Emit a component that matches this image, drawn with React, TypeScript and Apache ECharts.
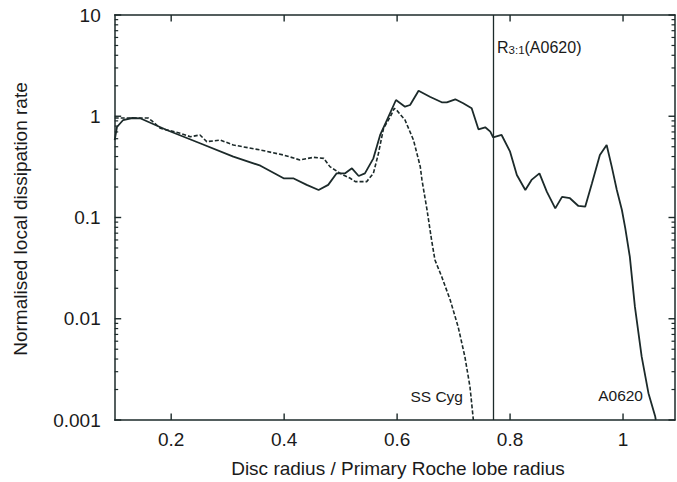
import React, { useEffect, useRef } from 'react';
import * as echarts from 'echarts';

// A0620 (solid curve)
const a0620X = [0.100, 0.104, 0.115, 0.131, 0.145, 0.192, 0.251, 0.310, 0.358, 0.399, 0.416, 0.440, 0.461, 0.478, 0.493, 0.508, 0.520, 0.532, 0.543, 0.558, 0.570, 0.582, 0.598, 0.614, 0.623, 0.638, 0.658, 0.679, 0.688, 0.703, 0.717, 0.732, 0.744, 0.756, 0.765, 0.770, 0.785, 0.800, 0.812, 0.827, 0.838, 0.852, 0.865, 0.880, 0.892, 0.906, 0.921, 0.933, 0.945, 0.959, 0.971, 0.980, 0.989, 0.998, 1.004, 1.012, 1.021, 1.033, 1.045, 1.057, 1.058];
const a0620Y = [0.582, 0.783, 0.918, 0.961, 0.955, 0.731, 0.541, 0.399, 0.325, 0.244, 0.244, 0.210, 0.187, 0.210, 0.273, 0.273, 0.306, 0.257, 0.273, 0.384, 0.653, 0.918, 1.447, 1.243, 1.291, 1.788, 1.560, 1.373, 1.373, 1.471, 1.343, 1.198, 0.743, 0.778, 0.704, 0.620, 0.653, 0.447, 0.263, 0.187, 0.235, 0.273, 0.180, 0.123, 0.160, 0.155, 0.130, 0.128, 0.218, 0.414, 0.520, 0.318, 0.187, 0.1186, 0.0782, 0.0410, 0.01315, 0.00422, 0.00184, 0.00108, 0.001];

// SS Cyg (dashed curve)
const ssCygX = [0.100, 0.159, 0.166, 0.181, 0.216, 0.234, 0.251, 0.263, 0.287, 0.310, 0.358, 0.399, 0.428, 0.452, 0.470, 0.481, 0.499, 0.517, 0.526, 0.546, 0.558, 0.567, 0.576, 0.588, 0.595, 0.599, 0.614, 0.629, 0.641, 0.644, 0.653, 0.661, 0.667, 0.679, 0.694, 0.708, 0.720, 0.729, 0.735];
const ssCygY = [0.961, 0.961, 0.900, 0.760, 0.679, 0.628, 0.653, 0.561, 0.582, 0.520, 0.464, 0.414, 0.370, 0.393, 0.384, 0.318, 0.273, 0.244, 0.226, 0.226, 0.273, 0.431, 0.760, 0.990, 1.198, 1.153, 0.918, 0.582, 0.318, 0.235, 0.1186, 0.0600, 0.0380, 0.0260, 0.01532, 0.00835, 0.00422, 0.00213, 0.001];

const xTickValues = [0.2, 0.4, 0.6, 0.8, 1];
const yTickValues = [0.001, 0.01, 0.1, 1, 10];
const yTickLabels = ['0.001', '0.01', '0.1', '1', '10'];
const minorMultipliers = [2, 3, 4, 5, 6, 7, 8, 9];
const decadeStarts = [0.001, 0.01, 0.1, 1];
const resonanceRadius = 0.769;

const X_MIN = 0.1;
const X_MAX = 1.092;
const Y_MIN = 0.001;
const Y_MAX = 10;

const INK = '#1c2a2a';
const TEXT = '#1a1a1a';
const FONT = '"Liberation Sans", Arial, Helvetica, sans-serif';

export default function App() {
  const ref = useRef<HTMLDivElement>(null);

  useEffect(() => {
    if (!ref.current) return;
    const chart = echarts.init(ref.current, null, { renderer: 'svg' });

    const pair = (xs: number[], ys: number[]) => xs.map((x, i) => [x, ys[i]]);
    const minorValues: number[] = [];
    decadeStarts.forEach((d) =>
      minorMultipliers.forEach((m) => minorValues.push(+(d * m).toPrecision(3)))
    );

    const yLabel = (v: number) => {
      const e = Math.round(Math.log10(v));
      return yTickLabels[e + 3] ?? '';
    };
    const xLabel = (v: number) =>
      xTickValues.some((t) => Math.abs(t - v) < 1e-6) ? String(+v.toFixed(1)) : '';

    const axisLine = { show: true, onZero: false, lineStyle: { color: INK, width: 1.5 } };

    const textElements: any[] = [
      {
        type: 'text',
        x: 398,
        y: 468,
        style: {
          text: 'Disc radius / Primary Roche lobe radius',
          fontSize: 19,
          fontFamily: FONT,
          fill: TEXT,
          align: 'center',
          verticalAlign: 'middle',
        },
      },
      {
        type: 'text',
        x: 20,
        y: 219,
        rotation: Math.PI / 2,
        style: {
          text: 'Normalised local dissipation rate',
          fontSize: 19,
          fontFamily: FONT,
          fill: TEXT,
          align: 'center',
          verticalAlign: 'middle',
        },
      },
      {
        type: 'text',
        x: 497,
        y: 39.5,
        style: {
          text: '{m|R}{s|3:1}{m|(A0620)}',
          fontFamily: FONT,
          fill: TEXT,
          align: 'left',
          verticalAlign: 'top',
          rich: {
            m: { fontSize: 16, lineHeight: 16, verticalAlign: 'top', fontFamily: FONT, fill: TEXT },
            s: { fontSize: 11.5, lineHeight: 12, verticalAlign: 'bottom', padding: [9, 0, 0, 0], fontFamily: FONT, fill: TEXT },
          },
        },
      },
      {
        type: 'text',
        x: 463,
        y: 396,
        style: {
          text: 'SS Cyg',
          fontSize: 15.5,
          fontFamily: FONT,
          fill: TEXT,
          align: 'right',
          verticalAlign: 'middle',
        },
      },
      {
        type: 'text',
        x: 643,
        y: 395,
        style: {
          text: 'A0620',
          fontSize: 15.5,
          fontFamily: FONT,
          fill: TEXT,
          align: 'right',
          verticalAlign: 'middle',
        },
      },
    ];

    chart.setOption({
      animation: false,
      backgroundColor: '#ffffff',
      grid: { left: 114.7, right: 2, top: 15, bottom: 62, containLabel: false },
      xAxis: [
        {
          type: 'value',
          min: X_MIN,
          max: X_MAX,
          splitNumber: 5,
          position: 'bottom',
          axisLine,
          axisTick: { show: false },
          splitLine: { show: false },
          axisLabel: {
            show: true,
            margin: 10,
            fontSize: 19,
            fontFamily: FONT,
            color: TEXT,
            showMinLabel: false,
            showMaxLabel: false,
            formatter: xLabel,
          },
        },
        {
          type: 'value',
          min: X_MIN,
          max: X_MAX,
          splitNumber: 5,
          position: 'top',
          axisLine,
          axisTick: { show: false },
          splitLine: { show: false },
          axisLabel: { show: false },
        },
      ],
      yAxis: [
        {
          type: 'log',
          logBase: 10,
          min: Y_MIN,
          max: Y_MAX,
          position: 'left',
          axisLine,
          axisTick: { show: false },
          splitLine: { show: false },
          axisLabel: {
            show: true,
            margin: 14,
            fontSize: 19,
            fontFamily: FONT,
            color: TEXT,
            formatter: yLabel,
          },
        },
        {
          type: 'log',
          logBase: 10,
          min: Y_MIN,
          max: Y_MAX,
          position: 'right',
          axisLine,
          axisTick: { show: false },
          splitLine: { show: false },
          axisLabel: { show: false },
        },
      ],
      series: [
        {
          name: 'SS Cyg',
          type: 'line',
          data: pair(ssCygX, ssCygY),
          showSymbol: false,
          symbol: 'none',
          clip: true,
          lineStyle: { color: INK, width: 1.6, type: [4, 2] },
          z: 3,
        },
        {
          name: 'A0620',
          type: 'line',
          data: pair(a0620X, a0620Y),
          showSymbol: false,
          symbol: 'none',
          clip: true,
          lineStyle: { color: INK, width: 1.8 },
          z: 4,
          markLine: {
            silent: true,
            symbol: 'none',
            label: { show: false },
            lineStyle: { color: INK, width: 1.3, type: 'solid' },
            data: [{ xAxis: resonanceRadius }],
          },
        },
      ],
      graphic: { elements: textElements },
    });

    // Axis ticks (inside, on all four sides), positioned through the chart's own scales
    const toPx = (x: number, y: number) =>
      chart.convertToPixel({ xAxisIndex: 0, yAxisIndex: 0 }, [x, y]) as number[];
    const leftX = toPx(X_MIN, 1)[0];
    const rightX = toPx(X_MAX, 1)[0];
    const topY = toPx(X_MIN, Y_MAX)[1];
    const botY = toPx(X_MIN, Y_MIN)[1];
    const seg = (x1: number, y1: number, x2: number, y2: number, w: number) => ({
      type: 'line',
      silent: true,
      z: 50,
      shape: { x1, y1, x2, y2 },
      style: { stroke: INK, lineWidth: w },
    });
    const tickEls: any[] = [];
    minorValues.forEach((v) => {
      const y = toPx(X_MIN, v)[1];
      tickEls.push(seg(leftX, y, leftX + 3.5, y, 1.2));
      tickEls.push(seg(rightX - 3.5, y, rightX, y, 1.2));
    });
    yTickValues.forEach((v) => {
      const y = toPx(X_MIN, v)[1];
      tickEls.push(seg(leftX, y, leftX + 6.5, y, 1.4));
      tickEls.push(seg(rightX - 6.5, y, rightX, y, 1.4));
    });
    xTickValues.forEach((v) => {
      const x = toPx(v, 1)[0];
      tickEls.push(seg(x, botY, x, botY - 6.5, 1.4));
      tickEls.push(seg(x, topY, x, topY + 6.5, 1.4));
    });

    chart.setOption({ graphic: { elements: [...textElements, ...tickEls] } });

    return () => {
      chart.dispose();
    };
  }, []);

  return (
    <div
      ref={ref}
      style={{ position: 'fixed', left: 0, top: 0, width: 677, height: 482, background: '#fff' }}
    />
  );
}
